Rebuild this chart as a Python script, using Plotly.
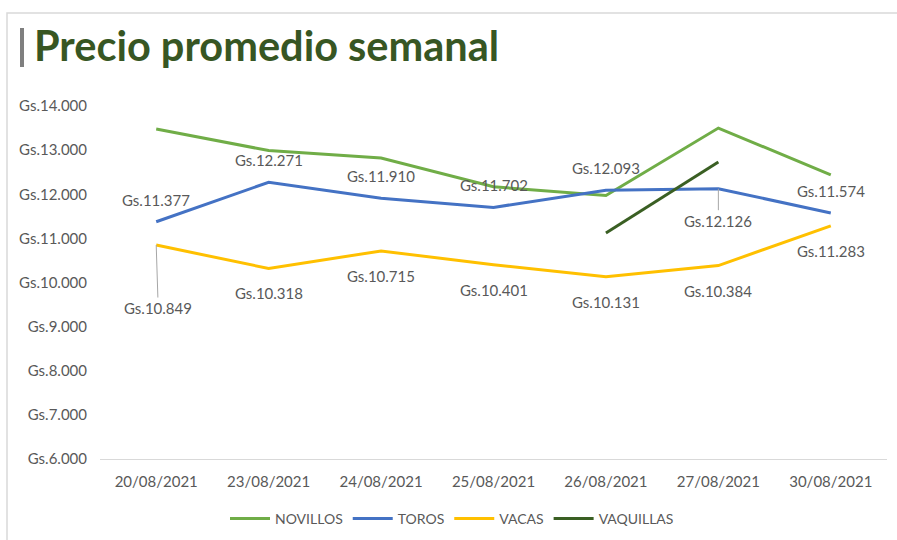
import plotly.graph_objects as go

dates = ["20/08/2021", "23/08/2021", "24/08/2021", "25/08/2021", "26/08/2021", "27/08/2021", "30/08/2021"]
novillos = [13480, 12990, 12820, 12170, 11970, 13500, 12440]
toros = [11377, 12271, 11910, 11702, 12093, 12126, 11574]
vacas = [10849, 10318, 10715, 10401, 10131, 10384, 11283]
vaquillas = [None, None, None, None, 11120, 12730, None]

y_ticks = [6000, 7000, 8000, 9000, 10000, 11000, 12000, 13000, 14000]

title_text = "Precio promedio semanal"

def gs(v):
    return "Gs." + f"{int(round(v)):,}".replace(",", ".")

FONT = "Lato"
GRAY = "#595959"

# plot geometry (pixels)
W, H = 897, 540
ML, MR, MT, MB = 100, 10, 106, 81
PW, PH = W - ML - MR, H - MT - MB

def px_x(p):
    return (p - ML) / PW

def px_y(p):
    return (H - MB - p) / PH

fig = go.Figure()
series = [
    ("NOVILLOS", novillos, "#70AD47"),
    ("TOROS", toros, "#4472C4"),
    ("VACAS", vacas, "#FFC000"),
    ("VAQUILLAS", vaquillas, "#3A5F23"),
]
for name, vals, col in series:
    fig.add_trace(go.Scatter(
        x=dates, y=vals, name=name, mode="lines",
        line=dict(color=col, width=3),
        connectgaps=False,
    ))

ann = []
lab_font = dict(family=FONT, size=15, color=GRAY)
# TOROS labels: above, except 27/08 below with leader line
for i, (d, v) in enumerate(zip(dates, toros)):
    if i == 5:
        ann.append(dict(x=d, y=v, text=gs(v), showarrow=True, arrowhead=0,
                        arrowwidth=1, arrowcolor="#A6A6A6", ax=0, ay=32,
                        font=lab_font))
    else:
        ann.append(dict(x=d, y=v, text=gs(v), showarrow=False, yshift=22,
                        font=lab_font))
# VACAS labels: below, 20/08 with leader line
for i, (d, v) in enumerate(zip(dates, vacas)):
    if i == 0:
        ann.append(dict(x=d, y=v, text=gs(v), showarrow=True, arrowhead=0,
                        arrowwidth=1, arrowcolor="#A6A6A6", ax=2, ay=63,
                        font=lab_font))
    else:
        ann.append(dict(x=d, y=v, text=gs(v), showarrow=False, yshift=-25,
                        font=lab_font))

shapes = [
    # chart border
    dict(type="rect", xref="paper", yref="paper",
         x0=px_x(7), x1=px_x(905), y0=px_y(13), y1=px_y(548),
         line=dict(color="#D9D9D9", width=1.5), fillcolor="rgba(0,0,0,0)", layer="below"),
    # title bar
    dict(type="rect", xref="paper", yref="paper",
         x0=px_x(20), x1=px_x(24), y0=px_y(67), y1=px_y(28),
         line=dict(width=0), fillcolor="#7F7F7F"),
]

fig.update_layout(
    width=W, height=H,
    margin=dict(l=ML, r=MR, t=MT, b=MB, autoexpand=False),
    paper_bgcolor="white", plot_bgcolor="white",
    title=dict(text=title_text, xref="container", yref="container",
               x=34 / W, xanchor="left", y=1 - 46 / H, yanchor="middle",
               font=dict(family="Lato", size=41.5, color="#375623", weight="bold")),
    font=dict(family=FONT, size=15, color=GRAY),
    showlegend=True,
    legend=dict(orientation="h", x=px_x(452), xanchor="center",
                y=px_y(519), yanchor="middle",
                font=dict(family=FONT, size=14, color=GRAY),
                itemwidth=40, tracegroupgap=0),
    annotations=ann,
    shapes=shapes,
    hovermode=False,
)
fig.update_xaxes(showgrid=False, showline=True, linecolor="#D9D9D9", linewidth=1,
                 ticks="", ticklabelstandoff=9, range=[-0.5, 6.5],
                 tickfont=dict(family=FONT, size=15, color=GRAY), zeroline=False)
fig.update_yaxes(showgrid=False, showline=False, ticks="", range=[6000, 14000],
                 tickvals=y_ticks, ticktext=[gs(v) for v in y_ticks],
                 ticklabelstandoff=12, zeroline=False,
                 tickfont=dict(family=FONT, size=15, color=GRAY))

fig.write_html("out.html", config={"displayModeBar": False},
               post_script="document.body.style.margin='0';document.body.style.overflow='hidden';")
